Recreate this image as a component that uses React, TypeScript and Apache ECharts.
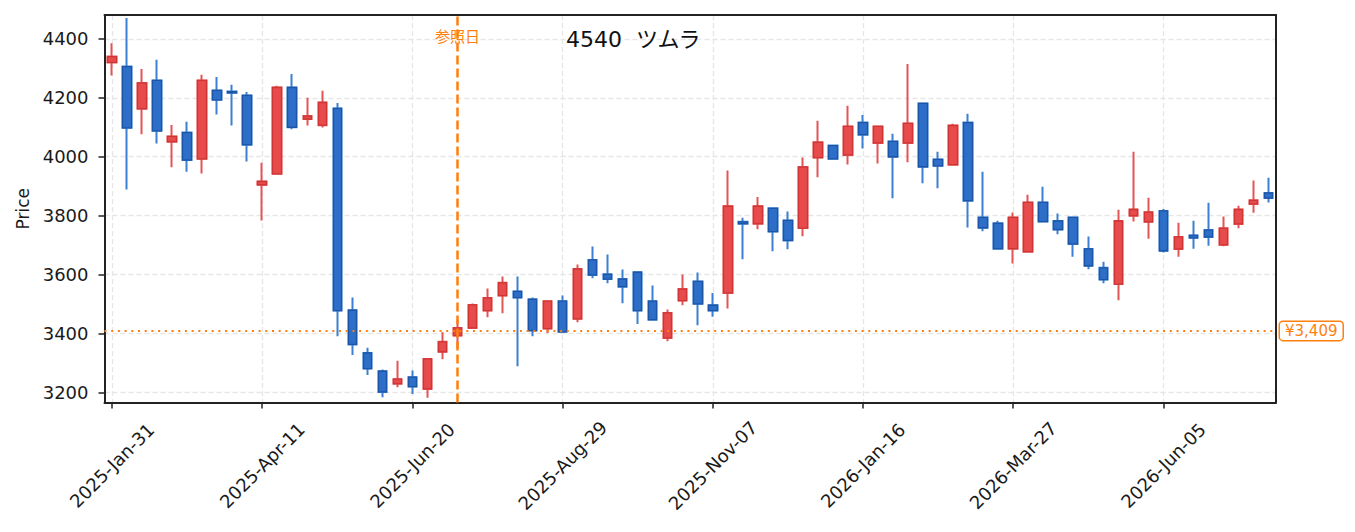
import React, { useEffect, useRef } from "react";
import * as echarts from "echarts";

const MONTHS = ["Jan", "Feb", "Mar", "Apr", "May", "Jun", "Jul", "Aug", "Sep", "Oct", "Nov", "Dec"];
const START_UTC = Date.UTC(2025, 0, 31);
const WEEK_COUNT = 78;
const categories: string[] = Array.from({ length: WEEK_COUNT }, (_, i) => {
  const d = new Date(START_UTC + i * 7 * 86400000);
  return `${d.getUTCFullYear()}-${MONTHS[d.getUTCMonth()]}-${String(d.getUTCDate()).padStart(2, "0")}`;
});

const opens = [
  4320, 4306, 4163, 4259, 4051, 4082, 3993, 4225, 4221, 4208,
  3905, 3942, 4235, 4128, 4107, 4164, 3479, 3334, 3272, 3230,
  3252, 3212, 3338, 3393, 3419, 3478, 3529, 3543, 3516, 3417,
  3510, 3450, 3650, 3601, 3585, 3608, 3510, 3385, 3512, 3577,
  3496, 3538, 3779, 3773, 3825, 3784, 3758, 3997, 4038, 4006,
  4116, 4047, 4052, 4047, 4181, 3991, 3973, 4116, 3794, 3774,
  3688, 3678, 3845, 3782, 3794, 3687, 3623, 3568, 3800, 3779,
  3816, 3687, 3733, 3751, 3701, 3772, 3840, 3877,
];
const closes = [
  4340, 4098, 4250, 4088, 4069, 3989, 4259, 4193, 4217, 4041,
  3916, 4235, 4100, 4138, 4184, 3478, 3363, 3281, 3202, 3245,
  3220, 3314, 3372, 3419, 3497, 3521, 3572, 3522, 3410, 3510,
  3406, 3619, 3599, 3585, 3559, 3478, 3447, 3470, 3551, 3501,
  3478, 3832, 3773, 3832, 3746, 3716, 3965, 4049, 3993, 4103,
  4075, 4103, 4000, 4113, 3966, 3969, 4106, 3851, 3759, 3688,
  3794, 3845, 3780, 3753, 3704, 3630, 3583, 3782, 3821, 3812,
  3681, 3728, 3725, 3728, 3757, 3821, 3852, 3860,
];
const lows = [
  4276, 3889, 4076, 4045, 3964, 3949, 3943, 4143, 4106, 3984,
  3784, 3942, 4093, 4106, 4099, 3391, 3327, 3259, 3184, 3218,
  3195, 3182, 3313, 3351, 3419, 3455, 3469, 3289, 3391, 3402,
  3406, 3438, 3588, 3571, 3503, 3432, 3447, 3374, 3496, 3428,
  3457, 3485, 3652, 3754, 3679, 3686, 3730, 3930, 3993, 3974,
  4028, 3977, 3859, 3981, 3910, 3893, 3973, 3760, 3747, 3688,
  3638, 3678, 3780, 3737, 3661, 3618, 3571, 3513, 3780, 3722,
  3675, 3661, 3688, 3698, 3696, 3757, 3810, 3845,
];
const highs = [
  4385, 4471, 4298, 4329, 4108, 4119, 4278, 4271, 4244, 4220,
  3980, 4241, 4281, 4200, 4224, 4182, 3522, 3352, 3278, 3308,
  3275, 3314, 3404, 3447, 3502, 3553, 3594, 3594, 3522, 3510,
  3529, 3634, 3695, 3668, 3617, 3608, 3563, 3482, 3600, 3607,
  3538, 3953, 3793, 3863, 3829, 3814, 3997, 4122, 4038, 4173,
  4142, 4103, 4078, 4315, 4181, 4017, 4112, 4146, 3949, 3783,
  3811, 3871, 3898, 3807, 3794, 3729, 3644, 3820, 4017, 3861,
  3823, 3776, 3783, 3844, 3797, 3834, 3919, 3929,
];

const yTicks = [3200, 3400, 3600, 3800, 4000, 4200, 4400];
const Y_MIN = 3166;
const Y_MAX = 4481;

const REF_DATE = "2025-Jul-11";
const REF_PRICE = 3409;
const REF_PRICE_LABEL = "¥3,409";
const TITLE = "4540  ツムラ";

const UP_FILL = "#e84b4b";
const UP_EDGE = "#cf3535";
const UP_WICK = "#e35454";
const DOWN_FILL = "#2d6fc8";
const DOWN_EDGE = "#1d55a6";
const DOWN_WICK = "#3b80d2";
const ORANGE = "#ff7f0e";
const FRAME = "#222222";
const GRID_LINE = "#e6e6e6";
const FONT = "'DejaVu Sans', 'Noto Sans CJK JP', sans-serif";

export default function App() {
  const ref = useRef<HTMLDivElement>(null);

  useEffect(() => {
    if (!ref.current) return;
    const chart = echarts.init(ref.current, null, { renderer: "svg" });

    const wickData = categories.map((_, i) => [opens[i], closes[i], lows[i], highs[i]]);
    const bodyData = categories.map((_, i) => [
      opens[i],
      closes[i],
      Math.min(opens[i], closes[i]),
      Math.max(opens[i], closes[i]),
    ]);

    const frameLine = { show: true, onZero: false, lineStyle: { color: FRAME, width: 2 } };

    chart.setOption({
      animation: false,
      backgroundColor: "#ffffff",
      title: {
        text: TITLE,
        left: 566,
        top: 28,
        padding: 0,
        textStyle: { fontSize: 22, fontWeight: "normal", color: "#111", fontFamily: FONT },
      },
      grid: {
        left: 104.5,
        top: 15,
        right: 79,
        bottom: 129.5,
        show: false,
        containLabel: false,
        outerBoundsMode: "none",
      },
      xAxis: [
        {
          type: "category",
          data: categories,
          boundaryGap: true,
          position: "bottom",
          axisLine: frameLine,
          axisTick: {
            show: true,
            interval: 9,
            alignWithLabel: true,
            length: 6,
            lineStyle: { color: FRAME, width: 1.5 },
          },
          axisLabel: {
            interval: 9,
            rotate: 45,
            align: "center",
            verticalAlign: "middle",
            margin: 63,
            fontSize: 18,
            color: "#1a1a1a",
            fontFamily: FONT,
          },
          splitLine: {
            show: true,
            interval: 9,
            alignWithLabel: true,
            lineStyle: { color: GRID_LINE, width: 1.3, type: [5, 3] },
          },
        },
        {
          type: "category",
          data: categories,
          boundaryGap: true,
          position: "top",
          axisLine: frameLine,
          axisTick: { show: false },
          axisLabel: { show: false },
          splitLine: { show: false },
        },
      ],
      yAxis: [
        {
          type: "value",
          min: Y_MIN,
          max: Y_MAX,
          splitNumber: 6,
          position: "left",
          name: "Price",
          nameLocation: "middle",
          nameGap: 71,
          nameTextStyle: { fontSize: 17, color: "#1a1a1a", fontFamily: FONT },
          axisLine: frameLine,
          axisTick: {
            show: true,
            length: 6,
            customValues: yTicks,
            lineStyle: { color: FRAME, width: 1.5 },
          },
          axisLabel: {
            margin: 16,
            fontSize: 18,
            color: "#1a1a1a",
            fontFamily: FONT,
            customValues: yTicks,
            showMinLabel: true,
            showMaxLabel: true,
            formatter: (v: number) => (yTicks.indexOf(v) >= 0 ? String(v) : ""),
          },
          splitLine: {
            show: true,
            lineStyle: { color: GRID_LINE, width: 1.3, type: [5, 3] },
          },
        },
        {
          type: "value",
          min: Y_MIN,
          max: Y_MAX,
          position: "right",
          axisLine: frameLine,
          axisTick: { show: false },
          axisLabel: { show: false },
          splitLine: { show: false },
        },
      ],
      series: [
        {
          type: "candlestick",
          name: "wick",
          data: wickData,
          barWidth: 9,
          silent: true,
          itemStyle: {
            color: UP_FILL,
            color0: DOWN_FILL,
            borderColor: UP_WICK,
            borderColor0: DOWN_WICK,
            borderWidth: 2,
          },
        },
        {
          type: "candlestick",
          name: "body",
          data: bodyData,
          barWidth: 9,
          silent: true,
          itemStyle: {
            color: UP_FILL,
            color0: DOWN_FILL,
            borderColor: UP_EDGE,
            borderColor0: DOWN_EDGE,
            borderWidth: 1.3,
          },
          markLine: {
            silent: true,
            symbol: "none",
            animation: false,
            data: [
              {
                yAxis: REF_PRICE,
                lineStyle: { color: ORANGE, width: 2, type: [2, 4.7] },
                label: {
                  show: true,
                  position: "end",
                  distance: 4,
                  formatter: REF_PRICE_LABEL,
                  color: ORANGE,
                  fontSize: 15,
                  fontFamily: FONT,
                  backgroundColor: "#ffffff",
                  borderColor: ORANGE,
                  borderWidth: 1.5,
                  borderRadius: 3,
                  padding: [2, 5, 1, 5],
                },
              },
              {
                xAxis: REF_DATE,
                lineStyle: { color: ORANGE, width: 2.5, type: [9, 4] },
                label: { show: false },
              },
            ],
          },
        },
      ],
    });

    const refX = chart.convertToPixel({ xAxisIndex: 0 }, REF_DATE) as number;
    chart.setOption({
      graphic: [
        {
          type: "text",
          x: refX,
          y: 35,
          silent: true,
          style: {
            text: "参照日",
            fill: ORANGE,
            font: "15px 'Noto Sans CJK JP', sans-serif",
            textAlign: "center",
            textVerticalAlign: "middle",
          },
        },
      ],
    });

    return () => chart.dispose();
  }, []);

  return (
    <div
      ref={ref}
      style={{ position: "fixed", left: 0, top: 0, width: 1355, height: 532, background: "#fff" }}
    />
  );
}
